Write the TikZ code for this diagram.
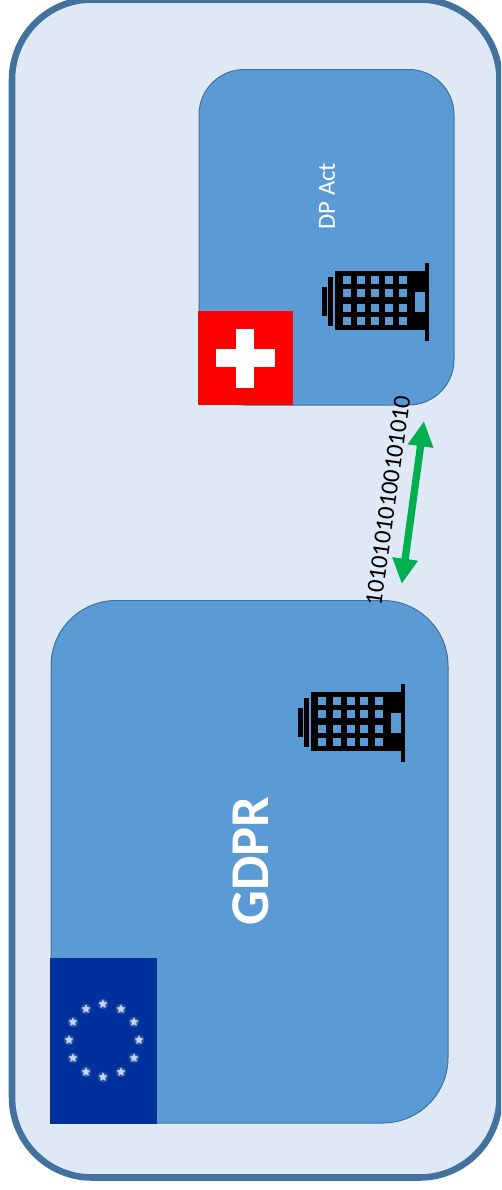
\documentclass[tikz,border=0pt]{standalone}
\usepackage{fontspec}
\setmainfont{Carlito}
\usetikzlibrary{arrows.meta,shapes.geometric}
\definecolor{pagefill}{HTML}{DEE9F5}
\definecolor{outeredge}{HTML}{44729F}
\definecolor{boxfill}{HTML}{5B9BD5}
\definecolor{boxedge}{HTML}{41719C}
\definecolor{eublue}{HTML}{00309B}
\definecolor{greenarrow}{HTML}{00B050}
\definecolor{starlight}{HTML}{C6D6EE}
\tikzset{
  x=0.75pt,y=-0.75pt,
  regionbox/.style={draw=boxedge,line width=0.75pt,fill=boxfill},
  flagbox/.style={inner sep=0pt,outer sep=0pt,anchor=north west},
  lbl/.style={text=white,rotate=90,inner sep=0pt,anchor=center},
  eustar/.style={star,star points=5,star point ratio=2,fill=starlight,draw=none,minimum size=7pt,inner sep=0pt},
  eustarglow/.style={circle,fill=starlight,opacity=0.22,minimum size=8pt,inner sep=0pt,draw=none},
  pics/officeblock/.style={code={
    \fill[black] (335,271) rectangle (425,330);
    \fill[black] (425,263) rectangle (429.3,341);
    \fill[black] (328,277) rectangle (333,326);
    \fill[black] (322,287) rectangle (327,316);
    \foreach \wx in {342.7,357,371.3,384.7,399} \foreach \wy in {276.3,289.3,303.7,316.7}
      \fill[boxfill] (\wx,\wy) rectangle ++(8,8);
    \fill[boxfill] (415,292.3) rectangle (425.3,311.7);
  }}
}
\begin{document}
\begin{tikzpicture}
\useasboundingbox (0,0) rectangle (501,1190);
\begin{scope}
\clip (0,0) rectangle (501,1190);
\draw[draw=outeredge,line width=4.9pt,fill=pagefill,rounded corners=60pt] (12,-0.5) rectangle (499.5,1177.5);
\end{scope}
\draw[regionbox,rounded corners=34pt] (199,69.5) rectangle (454,405) node[pos=0,coordinate] (dpnw) {};
\draw[regionbox,rounded corners=49pt] (51,600.5) rectangle (448,1123) node[pos=0,coordinate] (gdprnw) {};
\pic at (0,0) {officeblock};
\pic at (-24.5,421) {officeblock};
\node[lbl,font=\fontsize{18.5pt}{20pt}\selectfont] (dplabel) at (327,196) {DP Act};
\node[lbl,font=\fontsize{41pt}{44pt}\selectfont\bfseries] (gdprlabel) at (251,861) {GDPR};
% Swiss flag
\node[flagbox,fill=red,minimum width=71.25pt,minimum height=70.5pt] (chflag) at (198,311) {};
\fill[white] (216,349) rectangle (275,367);
\fill[white] (236,329) rectangle (254,388);
% EU flag
\node[flagbox,fill=eublue,minimum width=80.25pt,minimum height=124.5pt] (euflag) at (50,958) {};
\foreach \i/\sx/\sy in {1/103/1004,2/121/1009,3/134/1022,4/139/1040,5/134/1058,6/121/1072,7/103/1077,8/86/1072,9/73/1058,10/69/1040,11/73/1022,12/86/1009}{
  \node[eustarglow] at (\sx,\sy) {};
  \node[eustar] (star\i) at (\sx,\sy) {};
}
% data link
\coordinate (linktop) at (424,421);
\coordinate (linkbot) at (401.7,584);
\draw[greenarrow,line width=5.5pt,{Triangle[length=19pt,width=18pt]}-{Triangle[length=19pt,width=18pt]}] (linktop) -- (linkbot);
\node[rotate=82,inner sep=0pt,font=\fontsize{18.4pt}{20pt}\selectfont] (bits) at (388,500.5) {10101010100101010};
\end{tikzpicture}
\end{document}
